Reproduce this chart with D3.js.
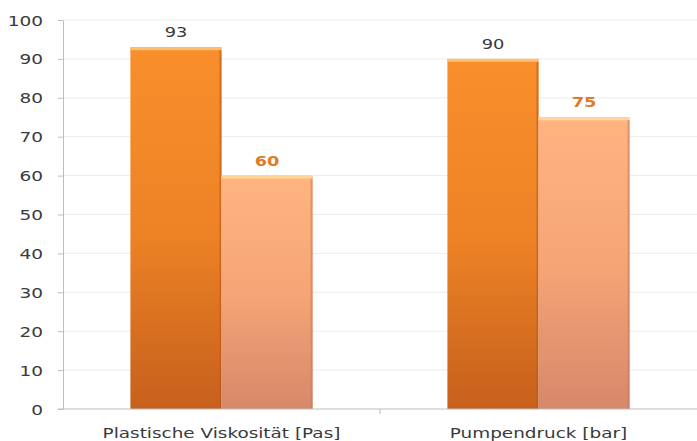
<!DOCTYPE html>
<meta charset="utf-8">
<style>
body { margin: 0; background: #fff; font-family: "DejaVu Sans", Verdana, sans-serif; }
.grid line { stroke: #ececec; }
.axis path, .axis line { stroke: #bdbdbd; }
.axis text { fill: #3a3a3a; }
</style>
<body>
<script src="https://d3js.org/d3.v7.min.js"></script>
<script>
var categories = ["Plastische Viskosität [Pas]", "Pumpendruck [bar]"];
var series = ["vorher", "nachher"];
var valuesA = [93, 90];
var valuesB = [60, 75];
var yTicks = [0, 10, 20, 30, 40, 50, 60, 70, 80, 90, 100];

var width = 697, height = 441;
var margin = {top: 20, right: 0, bottom: 32, left: 63};
var stretch = 1.27; // the source text is wider than it is tall

var svg = d3.select("body").append("svg")
    .attr("width", width)
    .attr("height", height);

var defs = svg.append("defs");
function grad(id, stops) {
  var g = defs.append("linearGradient").attr("id", id)
      .attr("x1", 0).attr("y1", 0).attr("x2", 0).attr("y2", 1);
  stops.forEach(function(s) {
    g.append("stop").attr("offset", s[0]).attr("stop-color", s[1]);
  });
}
grad("gA", [[0, "#f98e2c"], [0.5, "#ee8326"], [1, "#c6601c"]]);
grad("gB", [[0, "#ffb480"], [0.5, "#f6a576"], [1, "#d6886a"]]);

var x = d3.scaleBand()
    .domain(categories)
    .range([margin.left, width - margin.right]);

var xs = d3.scaleBand()
    .domain(series)
    .range([0, x.bandwidth()])
    .paddingOuter(0.74)
    .paddingInner(0);

var y = d3.scaleLinear()
    .domain([0, 100])
    .range([height - margin.bottom, margin.top]);

// gridlines
svg.append("g").attr("class", "grid")
  .selectAll("line").data(yTicks.slice(1))
  .enter().append("line")
    .attr("x1", margin.left).attr("x2", width - margin.right)
    .attr("y1", function(d) { return y(d); })
    .attr("y2", function(d) { return y(d); });

var data = [];
categories.forEach(function(c, i) {
  data.push({cat: c, s: series[0], v: valuesA[i], fill: "url(#gA)", top: "#fdc070", side: "#b85a1a", label: "#3a3a3a", weight: "normal"});
  data.push({cat: c, s: series[1], v: valuesB[i], fill: "url(#gB)", top: "#ffd59a", side: "#c97c5e", label: "#e07b2c", weight: "bold"});
});

var bars = svg.append("g").selectAll("g").data(data).enter().append("g");

bars.append("rect")
    .attr("x", function(d) { return x(d.cat) + xs(d.s); })
    .attr("y", function(d) { return y(d.v); })
    .attr("width", xs.bandwidth())
    .attr("height", function(d) { return y(0) - y(d.v); })
    .attr("fill", function(d) { return d.fill; });

// bevel: top highlight and right edge shade
bars.append("rect")
    .attr("x", function(d) { return x(d.cat) + xs(d.s); })
    .attr("y", function(d) { return y(d.v); })
    .attr("width", xs.bandwidth())
    .attr("height", 3)
    .attr("fill", function(d) { return d.top; });

bars.append("rect")
    .attr("x", function(d) { return x(d.cat) + xs(d.s) + xs.bandwidth() - 2; })
    .attr("y", function(d) { return y(d.v) + 3; })
    .attr("width", 2)
    .attr("height", function(d) { return y(0) - y(d.v) - 3; })
    .attr("fill", function(d) { return d.side; })
    .attr("opacity", 0.6);

bars.append("text")
    .attr("transform", function(d) {
      return "translate(" + (x(d.cat) + xs(d.s) + xs.bandwidth() / 2) + "," + (y(d.v) - 10) + ") scale(" + stretch + ",1)";
    })
    .attr("text-anchor", "middle")
    .attr("font-size", 14)
    .attr("font-weight", function(d) { return d.weight; })
    .attr("fill", function(d) { return d.label; })
    .text(function(d) { return d.v; });

// y axis
var yAxis = svg.append("g").attr("class", "axis")
    .attr("transform", "translate(" + margin.left + ",0)")
    .call(d3.axisLeft(y).tickValues(yTicks).tickSize(5).tickPadding(0).tickSizeOuter(0));
yAxis.selectAll("text")
    .attr("x", null)
    .attr("dy", null)
    .attr("transform", "translate(-20,5) scale(" + stretch * 1.08 + ",1)")
    .attr("font-size", 13.5)
    .attr("font-family", "DejaVu Sans");

// x axis
var xAxis = svg.append("g").attr("class", "axis")
    .attr("transform", "translate(0," + y(0) + ")");
xAxis.append("line")
    .attr("x1", margin.left - 5).attr("x2", width)
    .attr("y1", 0).attr("y2", 0);
xAxis.selectAll(".sep").data(categories.slice(1)).enter().append("line")
    .attr("x1", function(d) { return x(d); }).attr("x2", function(d) { return x(d); })
    .attr("y1", 0).attr("y2", 5);
xAxis.selectAll(".lbl").data(categories).enter().append("text")
    .attr("transform", function(d) {
      return "translate(" + (x(d) + x.bandwidth() / 2) + ",29) scale(" + stretch + ",1)";
    })
    .attr("text-anchor", "middle")
    .attr("font-size", 14.5)
    .text(function(d) { return d; });
</script>
</body>
